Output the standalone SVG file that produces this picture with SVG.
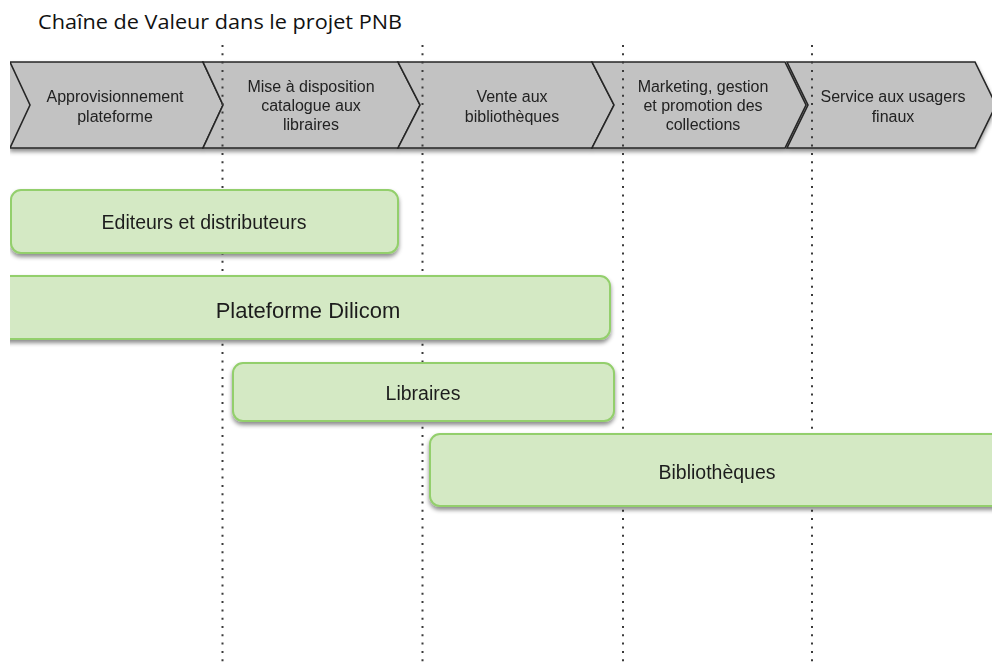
<svg xmlns="http://www.w3.org/2000/svg" width="992" height="663" viewBox="0 0 992 663">
<defs>
<style>
.chev{fill:#c2c2c2;stroke:#262626;stroke-width:1.6;stroke-linejoin:miter}
.ct{font-family:"Liberation Sans",Arial,sans-serif;font-size:16px;fill:#222;text-anchor:middle}
.box{fill:#d4e9c4;stroke:#93cf6c;stroke-width:2}
.bt{font-family:"Liberation Sans",Arial,sans-serif;font-size:19.5px;fill:#1e1e1e;text-anchor:middle}
.bt.big{font-size:22px}
.guide{stroke:#3a3a3a;stroke-width:2;stroke-dasharray:2 6.3;fill:none}
</style>
<filter id="sh" x="-5%" y="-20%" width="110%" height="150%">
<feDropShadow dx="0" dy="3" stdDeviation="2" flood-color="#000" flood-opacity="0.45"/>
</filter>
<clipPath id="pg"><rect x="10" y="0" width="982" height="663"/></clipPath>
</defs>
<rect width="992" height="663" fill="#fff"/>
<text x="38" y="29" font-family="'Open Sans','Liberation Sans',sans-serif" font-size="19.5" fill="#111" textLength="364" lengthAdjust="spacingAndGlyphs">Chaîne de Valeur dans le projet PNB</text>
<g id="chevrons" clip-path="url(#pg)" filter="url(#sh)">
<g id="chev1">
<polygon points="10,62 30,62 30,148 10,148" fill="#c2c2c2"/>
<polygon class="chev" points="10,62 203,62 223,105 203,148 10,148 30,105"/>
<text class="ct" x="115" y="101.5">Approvisionnement</text>
<text class="ct" x="115" y="121.5">plateforme</text>
</g>
<g id="chev2">
<polygon class="chev" points="203,62 398,62 420,105 398,148 203,148 223,105"/>
<text class="ct" x="311" y="92">Mise à disposition</text>
<text class="ct" x="311" y="111">catalogue aux</text>
<text class="ct" x="311" y="130">libraires</text>
</g>
<g id="chev3">
<polygon class="chev" points="398,62 592,62 614,105 592,148 398,148 420,105"/>
<text class="ct" x="512" y="101.5">Vente aux</text>
<text class="ct" x="512" y="121.5">bibliothèques</text>
</g>
<g id="chev4">
<polygon class="chev" points="592,62 785,62 806,105 785,148 592,148 614,105"/>
<text class="ct" x="703" y="92">Marketing, gestion</text>
<text class="ct" x="703" y="111">et promotion des</text>
<text class="ct" x="703" y="130">collections</text>
</g>
<g id="chev5">
<polygon class="chev" points="787,62 975,62 996,105 975,148 787,148 808,105"/>
<text class="ct" x="893" y="101.5">Service aux usagers</text>
<text class="ct" x="893" y="121.5">finaux</text>
</g>
</g>
<g id="connectors">
<line class="guide" x1="222.5" y1="45" x2="222.5" y2="663"/>
<line class="guide" x1="422.5" y1="45" x2="422.5" y2="663"/>
<line class="guide" x1="623" y1="45" x2="623" y2="663"/>
<line class="guide" x1="812" y1="45" x2="812" y2="663"/>
</g>
<g clip-path="url(#pg)">
<g id="editeurs" filter="url(#sh)">
<rect class="box" x="11" y="190" width="387" height="63" rx="10"/>
<text class="bt" x="204" y="229">Editeurs et distributeurs</text>
</g>
<g id="dilicom" filter="url(#sh)">
<rect class="box" x="-10" y="276" width="620" height="63" rx="10"/>
<text class="bt big" x="308" y="318">Plateforme Dilicom</text>
</g>
<g id="libraires" filter="url(#sh)">
<rect class="box" x="233" y="363" width="381" height="58" rx="10"/>
<text class="bt" x="423" y="400">Libraires</text>
</g>
<g id="bibliotheques" filter="url(#sh)">
<rect class="box" x="430" y="434" width="580" height="72" rx="10"/>
<text class="bt" x="717" y="479">Bibliothèques</text>
</g>
</g>
</svg>
